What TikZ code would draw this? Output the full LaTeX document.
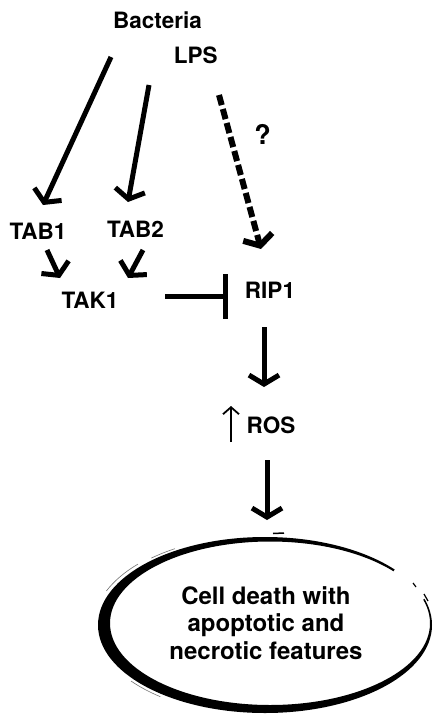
\documentclass[tikz,border=0pt]{standalone}
\usepackage{fontspec}
\setmainfont{TeX Gyre Heros}
\usetikzlibrary{arrows.meta}
\begin{document}
\begin{tikzpicture}[x=1pt,y=-1pt,
  lbl/.style={font=\fontsize{22.5}{27.5}\selectfont\bfseries, inner sep=0pt, anchor=base},
  act/.style={line width=5pt, -{Straight Barb[length=9pt,width=30pt]}},
  maybe/.style={act, line width=6pt, dash pattern=on 10.5pt off 4pt},
  inhib/.style={line width=5pt, -{Bar[width=45pt]}},
  thinup/.style={line width=1.8pt, -{Straight Barb[length=7pt,width=16pt]}},
  bristle/.style={line width=0.6pt, black!55}]
\useasboundingbox (0,0) rectangle (432,714);

% labels
\node[lbl] (bact) at (157.5,28.3) {Bacteria};
\node[lbl] (lps)  at (195.8,64)   {LPS};
\node[lbl, font=\fontsize{27}{30}\selectfont\bfseries] (q) at (262.5,145) {?};
\node[lbl] (tab1) at (38,239.3)   {TAB1};
\node[lbl] (tab2) at (135.5,237.3){TAB2};
\node[lbl] (tak1) at (90,308.3)   {TAK1};
\node[lbl] (rip1) at (270,298.3)  {RIP1};
\node[lbl] (ros)  at (271,433.3)  {ROS};

% connector end points
\coordinate (bStart)  at (111,57);
\coordinate (t1End)   at (43,205);
\coordinate (lStart)  at (149,85);
\coordinate (t2End)   at (128,202);
\coordinate (dStart)  at (219,95);
\coordinate (rEnd)    at (261,249);
\coordinate (t1Out)   at (47,250);
\coordinate (k1In)    at (60,278);
\coordinate (t2Out)   at (143,250);
\coordinate (k2In)    at (128,278);
\coordinate (kOut)    at (165,296.7);
\coordinate (rBar)    at (228,296.7);
\coordinate (rOut)    at (264,327);
\coordinate (sIn)     at (264,387);
\coordinate (upLow)   at (231,442);
\coordinate (upHigh)  at (231,406);
\coordinate (sOut)    at (267,460);
\coordinate (cIn)     at (267,520);

% pathway
\draw[act]   (bStart) -- (t1End);
\draw[act]   (lStart) -- (t2End);
\draw[maybe] (dStart) -- (rEnd);
\draw[act]   (t1Out) -- (k1In);
\draw[act]   (t2Out) -- (k2In);
\draw[inhib] (kOut) -- (rBar);
\draw[act]   (rOut) -- (sIn);
\draw[thinup] (upLow) -- (upHigh);
\draw[act]   (sOut) -- (cIn);

% brush-stroke outcome ellipse
\fill[even odd rule] (265,625) ellipse [x radius=167, y radius=88]
                     (270,623.25) ellipse [x radius=160, y radius=81.75];
\draw[white, line width=7pt] (266,624) ++(-39:166 and 87)
      arc[start angle=-39, end angle=-17, x radius=166, y radius=87];
\draw[line width=1.2pt] (413,583) -- (416,587);
\draw[line width=1.2pt] (424,594) -- (428,601);
\draw[bristle] (265,625) ++(-158:171 and 91)
      arc[start angle=-158, end angle=-138, x radius=171, y radius=91];
\draw[bristle] (265,625) ++(-132:170 and 90)
      arc[start angle=-132, end angle=-122, x radius=170, y radius=90];
\draw[bristle] (265,625) ++(128:170 and 91)
      arc[start angle=128, end angle=142, x radius=170, y radius=91];
\draw[line width=1.5pt] (273,533.5) -- (284,533);

\node[lbl, anchor=center, align=center, font=\fontsize{24}{27.5}\selectfont\bfseries]
  (death) at (266,622.7)
  {Cell death with\\apoptotic and\\necrotic features};
\end{tikzpicture}
\end{document}
